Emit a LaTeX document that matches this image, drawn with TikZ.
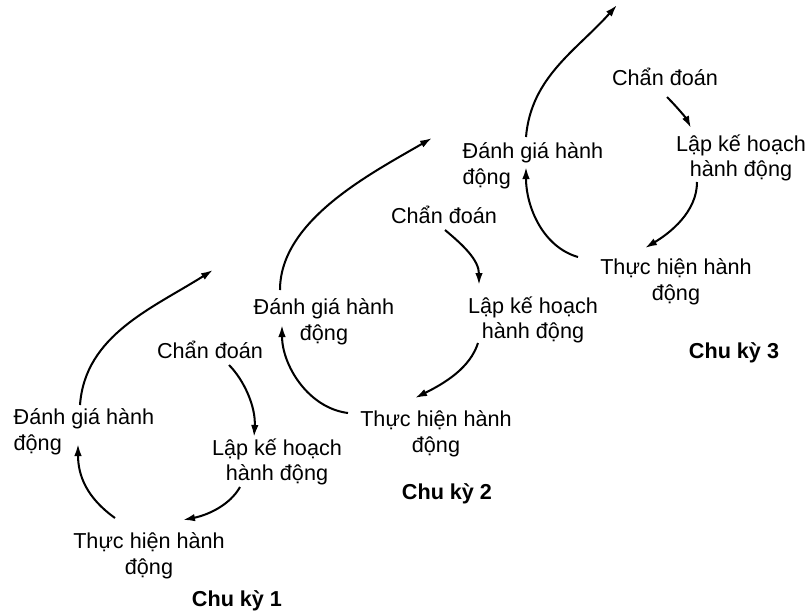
\documentclass[tikz,border=0pt]{standalone}
\usepackage{fontspec}
\setmainfont{Liberation Sans}
\usetikzlibrary{arrows.meta}

\begin{document}
\begin{tikzpicture}[
  x=0.02cm, y=-0.02cm,
  font=\fontsize{12.3}{14.6}\selectfont,
  lbl/.style={inner sep=1pt, align=center},
  lblL/.style={lbl, align=left},
  cyc/.style={font=\fontsize{12.3}{14.6}\selectfont\bfseries},
  flow/.style={-{Latex[length=2.4mm, width=1.5mm]}, line width=1.15pt}
]
\useasboundingbox (0,0) rectangle (806,613);

% chu ky 1
\node[lblL] (c1dg) at (84,432) {Đánh giá hành\\động};
\node[lbl] (c1cd) at (210,350) {Chẩn đoán};
\node[lbl] (c1lk) at (277,462) {Lập kế hoạch\\hành động};
\node[lbl] (c1th) at (149,556) {Thực hiện hành\\động};
\node[cyc] (c1) at (237,601) {Chu kỳ 1};
\coordinate (c1up) at (213,270);

% chu ky 2
\node[lbl] (c2dg) at (324,322) {Đánh giá hành\\động};
\node[lbl] (c2cd) at (444,215) {Chẩn đoán};
\node[lbl] (c2lk) at (533,320) {Lập kế hoạch\\hành động};
\node[lbl] (c2th) at (436,434) {Thực hiện hành\\động};
\node[cyc] (c2) at (447,494) {Chu kỳ 2};
\coordinate (c2up) at (432,138);

% chu ky 3
\node[lblL] (c3dg) at (533,166) {Đánh giá hành\\động};
\node[lbl] (c3cd) at (665,77) {Chẩn đoán};
\node[lbl] (c3lk) at (741,158) {Lập kế hoạch\\hành động};
\node[lbl] (c3th) at (676,282) {Thực hiện hành\\động};
\node[cyc] (c3) at (734,353) {Chu kỳ 3};
\coordinate (c3up) at (617,5);

\draw[flow] ([shift={(19,15)}]c1cd.center) .. controls +(15,15) and +(2,-30) .. ([shift={(-23,-25)}]c1lk.center);
\draw[flow] ([shift={(-37,25)}]c1lk.center) .. controls +(-10,18) and +(25,-5) .. ([shift={(34,-36)}]c1th.center);
\draw[flow] ([shift={(-34,-38)}]c1th.center) .. controls +(-28,-20) and +(0,32) .. ([shift={(-6,12)}]c1dg.center);
\draw[flow] ([shift={(-4,-27)}]c1dg.center) .. controls +(5,-70) and +(-60,38) .. (c1up);

\draw[flow] ([shift={(1,15)}]c2cd.center) .. controls +(18,15) and +(0,-25) .. ([shift={(-54,-35)}]c2lk.center);
\draw[flow] ([shift={(-55,23)}]c2lk.center) .. controls +(-8,25) and +(30,-15) .. ([shift={(-21,-36)}]c2th.center);
\draw[flow] ([shift={(-88,-21)}]c2th.center) .. controls +(-40,-5) and +(0,40) .. ([shift={(-42,3)}]c2dg.center);
\draw[flow] ([shift={(-44,-32)}]c2dg.center) .. controls +(0,-70) and +(-60,35) .. (c2up);

\draw[flow] ([shift={(2,20)}]c3cd.center) .. controls +(10,10) and +(-5,-10) .. ([shift={(-50,-30)}]c3lk.center);
\draw[flow] ([shift={(-44,24)}]c3lk.center) .. controls +(0,30) and +(25,-15) .. ([shift={(-31,-34)}]c3th.center);
\draw[flow] ([shift={(-98,-25)}]c3th.center) .. controls +(-35,-10) and +(0,40) .. ([shift={(-7,1)}]c3dg.center);
\draw[flow] ([shift={(-7,-29)}]c3dg.center) .. controls +(5,-60) and +(-40,45) .. (c3up);
\end{tikzpicture}
\end{document}
